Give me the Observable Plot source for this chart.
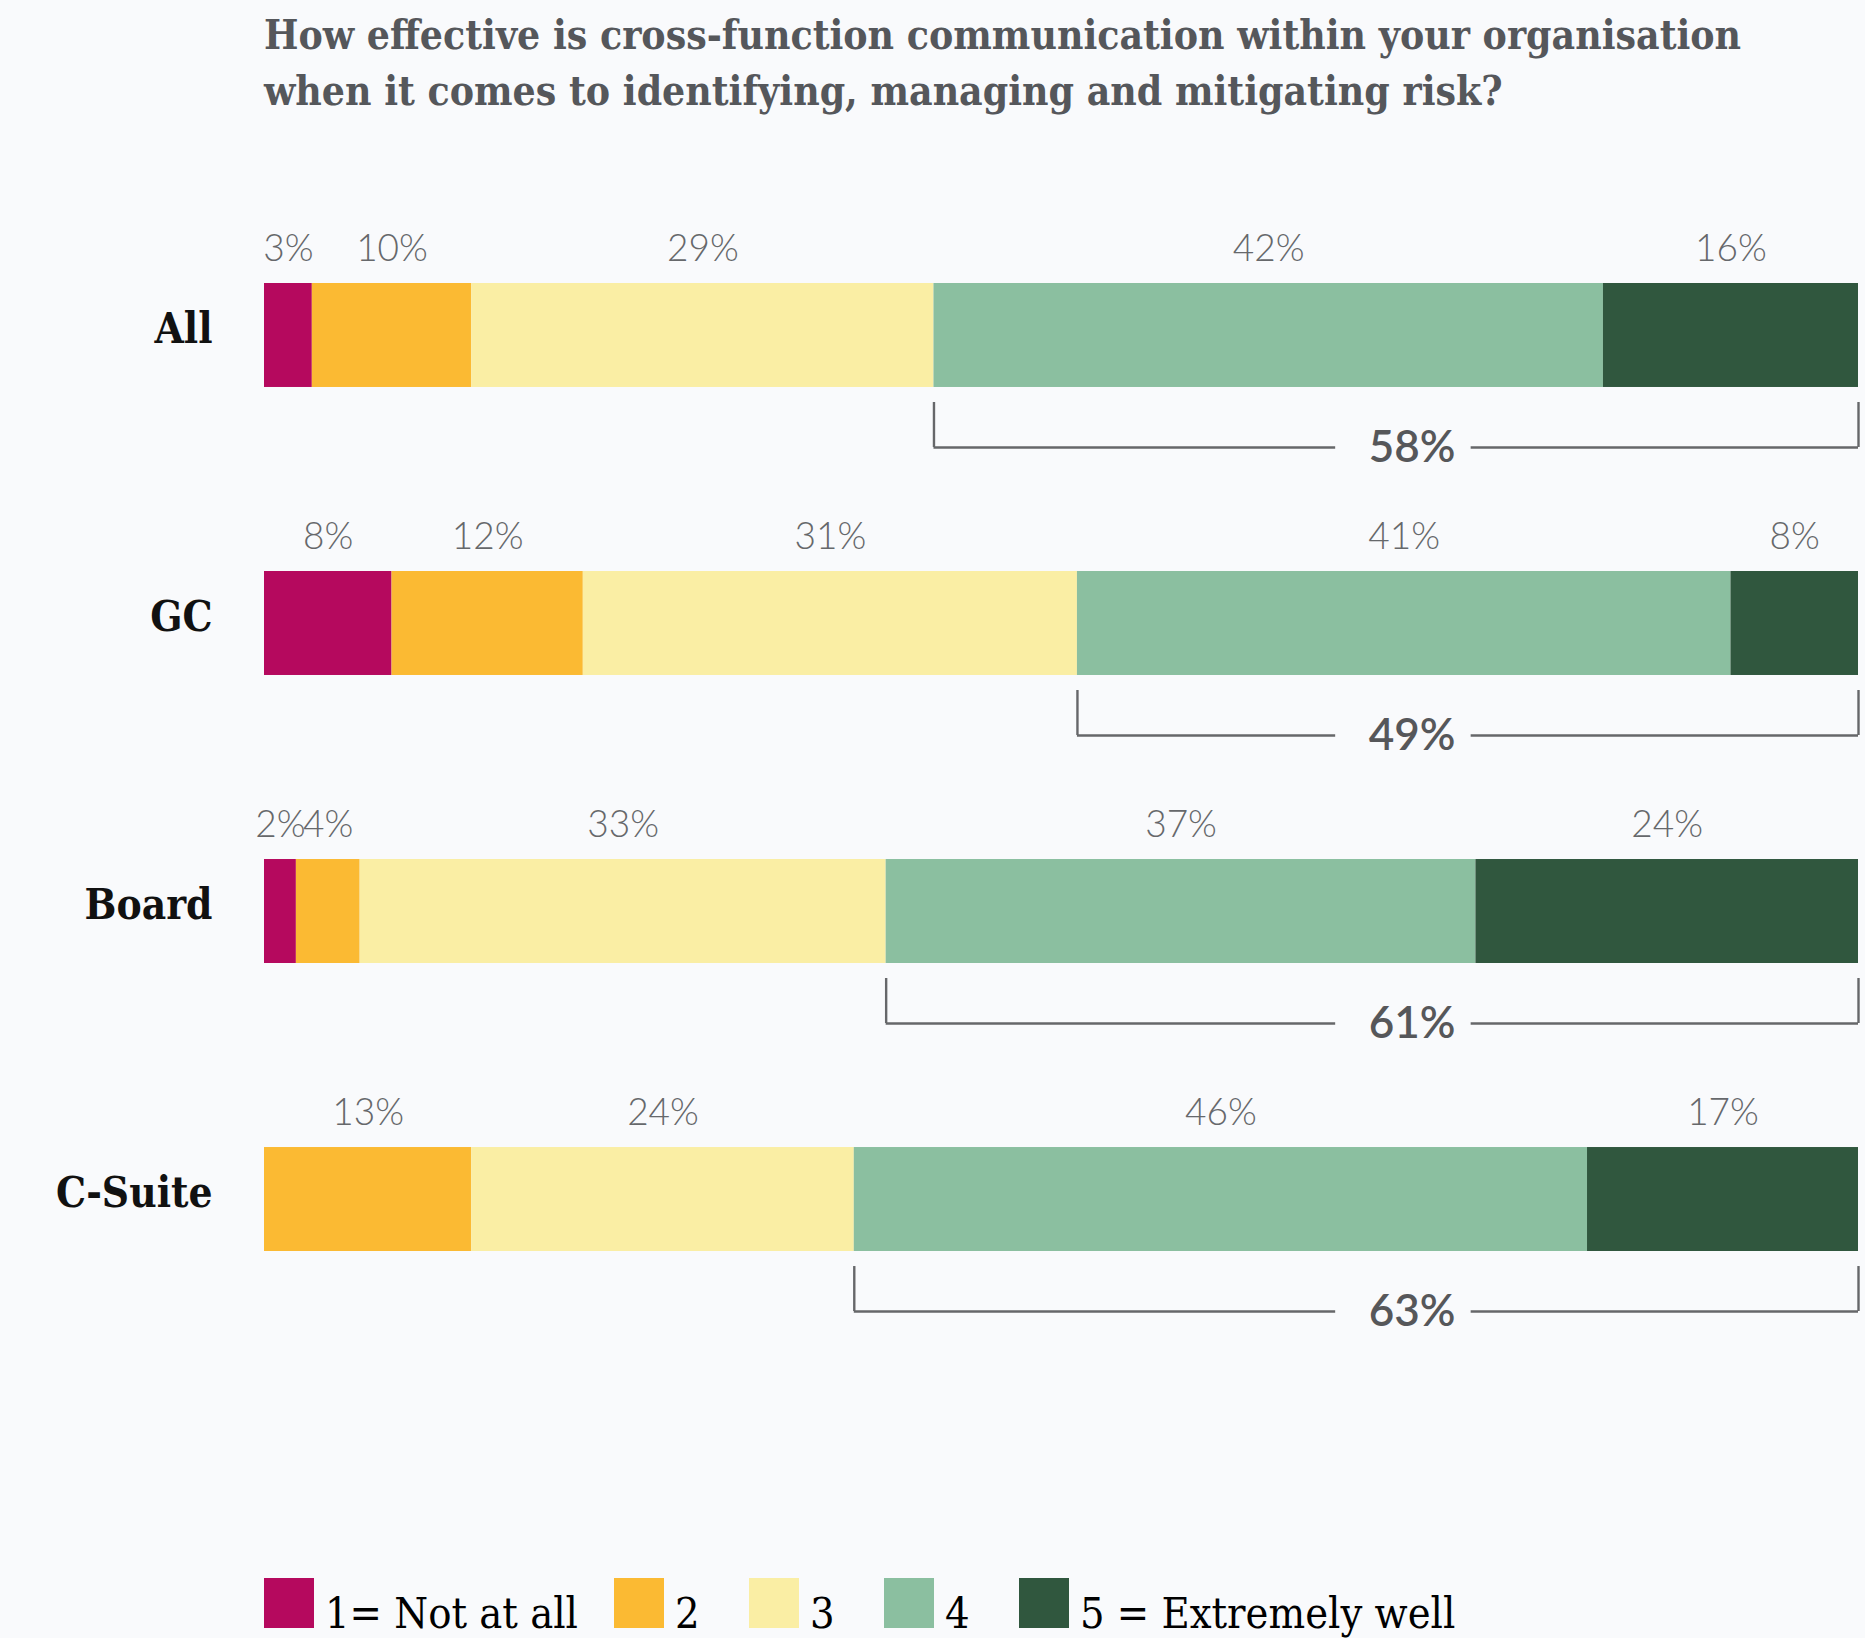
<!DOCTYPE html>
<html><head><meta charset="utf-8">
<script src="https://cdn.jsdelivr.net/npm/d3@7"></script>
<script src="https://cdn.jsdelivr.net/npm/@observablehq/plot@0.6"></script>
<style>
html,body{margin:0;padding:0;background:#f9fafc;}
#wrap{position:relative;width:1865px;height:1638px;overflow:hidden;}
#title{position:absolute;left:264px;top:7px;font-family:"DejaVu Serif Condensed","DejaVu Serif",serif;font-stretch:condensed;font-weight:bold;font-size:40.5px;line-height:56px;color:#55575b;margin:0;white-space:nowrap;}
#chart{position:absolute;left:0;top:150px;}
#legend{position:absolute;left:264px;top:1578px;font-family:"DejaVu Serif Condensed","DejaVu Serif",serif;font-stretch:condensed;font-size:43px;line-height:50px;color:#000;white-space:nowrap;}
.item{display:inline-block;margin-right:36px;}
.sw{display:inline-block;width:50px;height:50px;margin-right:11px;vertical-align:baseline;}
.lab{display:inline-block;min-width:38px;}
</style></head>
<body><div id="wrap">
<div id="title">How effective is cross-function communication within your organisation<br>when it comes to identifying, managing and mitigating risk?</div>
<div id="chart"></div>
<div id="legend"></div>
</div>
<script>
const categories = ["All", "GC", "Board", "C-Suite"];
const levels = ["1= Not at all", "2", "3", "4", "5 = Extremely well"];
const colors = ["#b5095e", "#fbba33", "#faeea4", "#8bbfa0", "#30573e"];
const level1 = [3, 8, 2, 0];
const level2 = [10, 12, 4, 13];
const level3 = [29, 31, 33, 24];
const level4 = [42, 41, 37, 46];
const level5 = [16, 8, 24, 17];
const topTwo = [58, 49, 61, 63];

const series = [level1, level2, level3, level4, level5];
const rows = [];
categories.forEach((c, i) => {
  levels.forEach((l, j) => rows.push({cat: c, level: l, value: series[j][i]}));
});
const brackets = categories.map((c, i) => ({
  cat: c,
  start: level1[i] + level2[i] + level3[i],
  total: topTwo[i]
}));

const gapLeft = 67.2, gapRight = 75.7, labelX = 72;
const sans = "Lato, 'Open Sans', sans-serif";
const serif = "'DejaVu Serif Condensed', 'DejaVu Serif', serif";
const lineColor = "#66676a";

const chart = Plot.plot({
  width: 1865,
  height: 1400,
  marginLeft: 264,
  marginRight: 7,
  marginTop: 0,
  marginBottom: 0,
  style: {background: "transparent", overflow: "visible"},
  x: {domain: [0, 100], axis: null},
  y: {domain: categories, range: [133, 1101], paddingInner: 0.639, paddingOuter: 0, align: 0, round: false, axis: null},
  color: {domain: levels, range: colors},
  marks: [
    Plot.barX(rows, Plot.stackX({x: "value", y: "cat", fill: "level", order: null})),
    Plot.text(rows, Plot.stackX({
      x: "value", y: "cat", z: "level", order: null,
      text: d => d.value > 0 ? d.value + "%" : "",
      dy: -86, fontSize: 37, fontWeight: 300, fill: "#66686b", fontFamily: sans
    })),
    Plot.text(categories, {
      y: d => d, frameAnchor: "left", dx: -52, dy: -6, textAnchor: "end",
      fontSize: 42, fontWeight: "bold", fill: "#111", fontFamily: serif
    }),
    Plot.tickX(brackets, {x: "start", y: "cat", dy: 119, insetBottom: 59, stroke: lineColor, strokeWidth: 2.4}),
    Plot.tickX(brackets, {x: d => d.start + d.total, y: "cat", dy: 119, insetBottom: 59, stroke: lineColor, strokeWidth: 2.4}),
    Plot.ruleY(brackets, {y: "cat", x1: "start", x2: () => gapLeft, dy: 112, stroke: lineColor, strokeWidth: 2.4}),
    Plot.ruleY(brackets, {y: "cat", x1: () => gapRight, x2: d => d.start + d.total, dy: 112, stroke: lineColor, strokeWidth: 2.4}),
    Plot.text(brackets, {
      x: () => labelX, y: "cat", dy: 112, text: d => d.total + "%",
      fontSize: 44, fontWeight: 600, fill: "#56575a", fontFamily: sans
    })
  ]
});
document.getElementById("chart").appendChild(chart);

const legend = document.getElementById("legend");
levels.forEach((l, j) => {
  const item = document.createElement("span");
  item.className = "item";
  const sw = document.createElement("span");
  sw.className = "sw";
  sw.style.background = colors[j];
  item.appendChild(sw);
  const lab = document.createElement("span");
  lab.className = "lab";
  lab.textContent = l;
  item.appendChild(lab);
  legend.appendChild(item);
});
</script>
</body></html>
